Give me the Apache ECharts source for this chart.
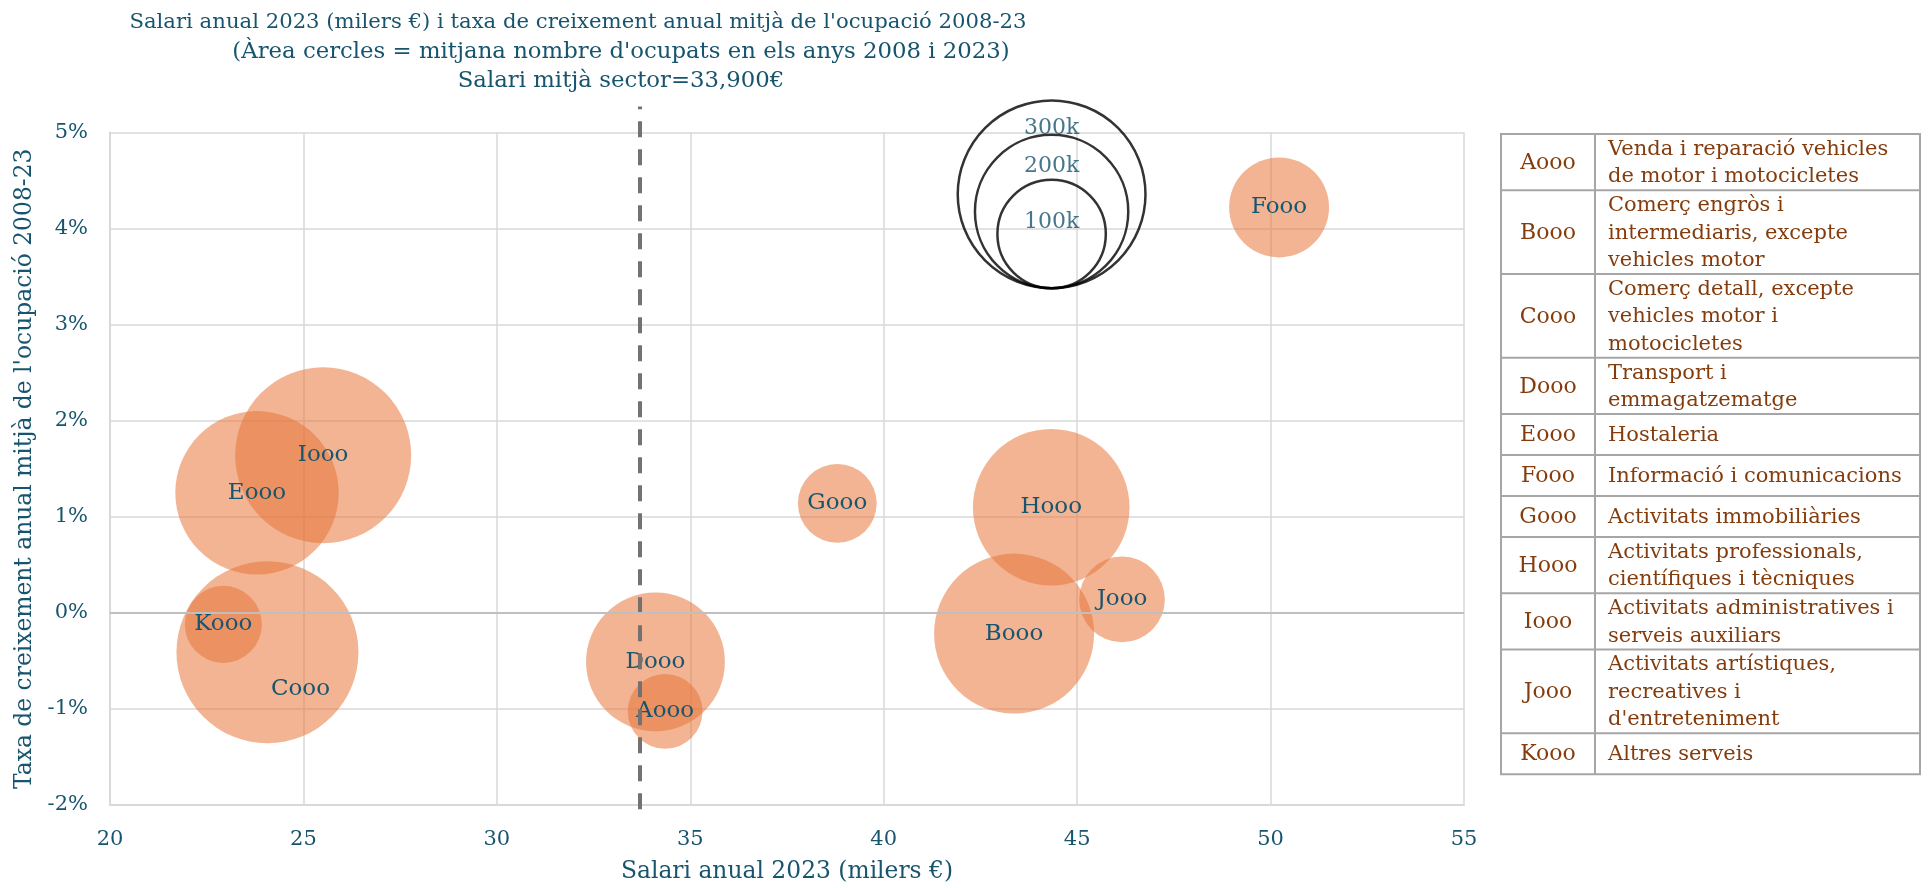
<!DOCTYPE html>
<html>
<head>
<meta charset="utf-8">
<script src="https://cdn.jsdelivr.net/npm/echarts@6/dist/echarts.min.js"></script>
<style>
html,body{margin:0;padding:0;background:#fff;}
#chart{width:1930px;height:888px;}
</style>
</head>
<body>
<div id="chart"></div>
<script>
// ---- data ----
const codes = ['Aooo','Booo','Cooo','Dooo','Eooo','Fooo','Gooo','Hooo','Iooo','Jooo','Kooo'];
const descriptions = [
  'Venda i reparació vehicles\nde motor i motocicletes',
  'Comerç engròs i\nintermediaris, excepte\nvehicles motor',
  'Comerç detall, excepte\nvehicles motor i\nmotocicletes',
  'Transport i\nemmagatzematge',
  'Hostaleria',
  'Informació i comunicacions',
  'Activitats immobiliàries',
  'Activitats professionals,\ncientífiques i tècniques',
  'Activitats administratives i\nserveis auxiliars',
  'Activitats artístiques,\nrecreatives i\nd\'entreteniment',
  'Altres serveis'
];
const salary = [34.35, 43.37, 24.07, 34.10, 23.80, 50.22, 38.80, 44.33, 25.51, 46.16, 22.93];   // milers €
const growth = [-1.025, -0.216, -0.41, -0.51, 1.25, 4.22, 1.14, 1.10, 1.64, 0.14, -0.12];      // %
const employed = [47.6, 217.9, 281.9, 164, 227.2, 85, 52.8, 208.7, 263.6, 62.4, 50.5];        // milers d'ocupats
const sizeLegendValues = [300, 200, 100];
const sizeLegendLabels = ['300k', '200k', '100k'];
const sizeLegendAnchor = [44.34, 3.38];
const sectorMeanSalary = 33.7;
const xTicks = [20, 25, 30, 35, 40, 45, 50, 55];
const yTicks = [-2, -1, 0, 1, 2, 3, 4, 5];
const titleLines = [
  'Salari anual 2023 (milers €) i taxa de creixement anual mitjà de l\'ocupació 2008-23',
  '(Àrea cercles = mitjana nombre d\'ocupats en els anys 2008 i 2023)',
  'Salari mitjà sector=33,900€'
];

// ---- style ----
const FONT = 'DejaVu Serif';
const TEAL = '#17546E';
const BROWN = '#843C0C';
const K = 5.42; // radius px per sqrt(thousand)
const diam = v => 2 * K * Math.sqrt(v);

const chart = echarts.init(document.getElementById('chart'));

// table graphic
const tblLeft = 1501, tblTop = 134, tblW = 419, col1W = 94, lineH = 27.6;
const els = [];
let y = tblTop;
const rowTops = [];
descriptions.forEach((d, i) => {
  const n = d.split('\n').length;
  const h = Math.max(41, n * lineH + 1);
  rowTops.push([y, h]);
  els.push({type:'text', x: tblLeft + col1W/2, y: y + h/2 + 1,
    style:{text: codes[i], font: '22px "' + FONT + '"', fill: BROWN, align:'center', verticalAlign:'middle'}});
  els.push({type:'text', x: tblLeft + col1W + 13, y: y + h/2 + 1,
    style:{text: d, font: '21px "' + FONT + '"', fill: BROWN, align:'left', verticalAlign:'middle', lineHeight: lineH}});
  y += h;
});
const tblBottom = y;
const lineStyle = {stroke:'#A6A6A6', lineWidth:2};
els.push({type:'rect', shape:{x:tblLeft, y:tblTop, width:tblW, height:tblBottom - tblTop}, style:{fill:'none', stroke:'#A6A6A6', lineWidth:2}});
els.push({type:'line', shape:{x1:tblLeft+col1W, y1:tblTop, x2:tblLeft+col1W, y2:tblBottom}, style:lineStyle});
rowTops.slice(1).forEach(([t]) => {
  els.push({type:'line', shape:{x1:tblLeft, y1:t, x2:tblLeft+tblW, y2:t}, style:lineStyle});
});

const option = {
  backgroundColor: '#fff',
  animation: false,
  textStyle: {fontFamily: FONT},
  title: [
    {text: titleLines[0], left: 573, top: 7, textAlign:'center', textStyle:{fontFamily: FONT, fontSize: 21.2, fontWeight:'normal', color: TEAL}},
    {text: titleLines[1], left: 616, top: 36, textAlign:'center', textStyle:{fontFamily: FONT, fontSize: 22.8, fontWeight:'normal', color: TEAL}},
    {text: titleLines[2], left: 616, top: 65, textAlign:'center', textStyle:{fontFamily: FONT, fontSize: 22.8, fontWeight:'normal', color: TEAL}}
  ],
  grid: {left: 110, right: 466, top: 132.5, bottom: 81, containLabel: false},
  xAxis: {
    type: 'value', min: xTicks[0], max: xTicks[xTicks.length-1], interval: 5,
    name: 'Salari anual 2023 (milers €)', nameLocation: 'middle', nameGap: 55,
    nameTextStyle: {fontFamily: FONT, fontSize: 23.4, color: TEAL},
    axisLine: {show: true, onZero: false, lineStyle: {color: '#D9D9D9', width: 2}},
    axisTick: {show: false},
    axisLabel: {fontFamily: FONT, fontSize: 21, color: TEAL, margin: 24},
    splitLine: {show: true, lineStyle: {color: '#D9D9D9', width: 1.5}}
  },
  yAxis: {
    type: 'value', min: yTicks[0], max: yTicks[yTicks.length-1], interval: 1,
    name: 'Taxa de creixement anual mitjà de l\'ocupació 2008-23', nameLocation: 'middle', nameGap: 69,
    nameTextStyle: {fontFamily: FONT, fontSize: 23.4, color: TEAL},
    axisLine: {show: true, lineStyle: {color: '#D9D9D9', width: 2}},
    axisTick: {show: false},
    axisLabel: {fontFamily: FONT, fontSize: 21, color: TEAL, margin: 22, formatter: '{value}%'},
    splitLine: {show: true, lineStyle: {color: '#D9D9D9', width: 1.5}}
  },
  series: [
    {
      type: 'scatter', name: 'sectors', z: 2,
      data: codes.map((c, i) => {
        const item = {name: c, value: [salary[i], growth[i], employed[i]]};
        if (c === 'Cooo') item.label = {show: true, position: 'inside', offset: [33, 37]};
        return item;
      }),
      symbolSize: v => diam(v[2]),
      itemStyle: {color: 'rgba(232,118,58,0.55)', opacity: 1},
      label: {show: true, position: 'inside', formatter: p => p.name, fontFamily: FONT, fontSize: 23, color: TEAL},
      markLine: {
        silent: true, symbol: 'none', label: {show: false},
        lineStyle: {color: '#BFBFBF', width: 2, type: 'solid'},
        data: [{yAxis: 0}]
      }
    },
    {
      type: 'scatter', name: 'sizeLegend', z: 3, clip: false,
      data: sizeLegendValues.map((v, i) => ({
        value: [sizeLegendAnchor[0], sizeLegendAnchor[1], v],
        label: {formatter: sizeLegendLabels[i], distance: [18, 22, 33][i]}
      })),
      symbolSize: v => diam(v[2]),
      symbolOffset: [0, '-50%'],
      itemStyle: {color: 'rgba(0,0,0,0)', borderColor: '#000', borderWidth: 2.5},
      label: {show: true, position: 'insideTop', fontFamily: FONT, fontSize: 22, color: TEAL}
    },
    {
      type: 'line', name: 'mean', z: 4, clip: false, symbol: 'none',
      data: [[sectorMeanSalary, -2.045], [sectorMeanSalary, 5.27]],
      lineStyle: {color: '#767171', width: 4, type: [16, 12]}
    }
  ],
  graphic: {elements: els}
};
chart.setOption(option);
</script>
</body>
</html>
